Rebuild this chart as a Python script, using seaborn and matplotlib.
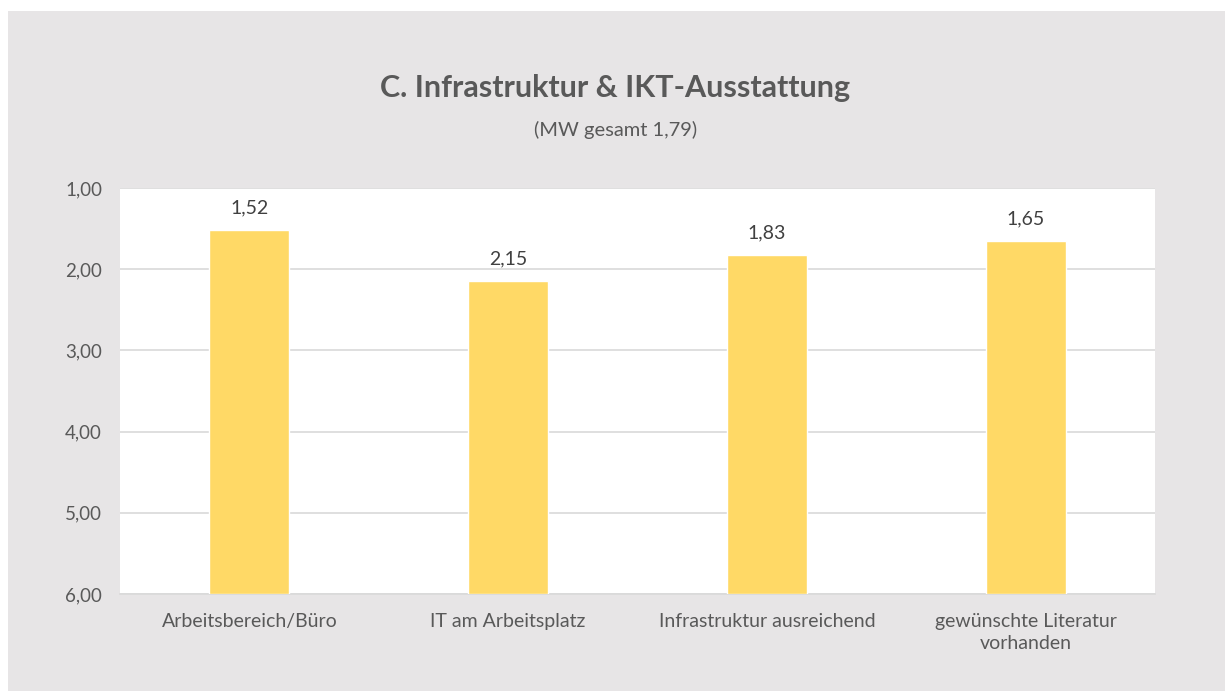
import matplotlib
matplotlib.use("Agg")
import matplotlib.pyplot as plt
from matplotlib.patches import Rectangle
import seaborn as sns

# Chart data
categories = ["Arbeitsbereich/Büro", "IT am Arbeitsplatz",
              "Infrastruktur ausreichend", "gewünschte Literatur\nvorhanden"]
values = [1.52, 2.15, 1.83, 1.65]
y_ticks = [1, 2, 3, 4, 5, 6]
title = "C. Infrastruktur & IKT-Ausstattung"
subtitle = "(MW gesamt 1,79)"

base = 6  # bars grow from the bottom of the (inverted) scale
bar_color = "#FFD966"
frame_color = "#E7E5E6"
text_color = "#595959"

sns.set_theme(style="white")
plt.rcParams["font.family"] = ["Lato", "DejaVu Sans"]

fig = plt.figure(figsize=(12.31, 6.91), dpi=100, facecolor="white")
# grey chart frame with a thin white margin (drawn behind the axes)
fig.patches.append(Rectangle((8 / 1231, 0), 1217 / 1231, 680 / 691,
                             transform=fig.transFigure, facecolor=frame_color,
                             edgecolor="none", zorder=-10))

ax = fig.add_axes([120 / 1231, 1 - 594 / 691, 1035 / 1231, 406 / 691])
ax.set_facecolor("white")

sns.barplot(x=categories, y=[v - base for v in values], bottom=base,
            color=bar_color, width=0.31, saturation=1, errorbar=None, ax=ax,
            zorder=3)

ax.set_ylim(base, 1)
ax.set_xlim(-0.5, len(categories) - 0.5)
ax.set_yticks(y_ticks)
ax.set_yticklabels([f"{t:.2f}".replace(".", ",") for t in y_ticks])
ax.yaxis.grid(True, color="#D9D9D9", linewidth=1.2, zorder=0)
ax.set_axisbelow(True)
for side in ["top", "right", "left"]:
    ax.spines[side].set_visible(False)
ax.spines["bottom"].set_color("#D9D9D9")
ax.spines["bottom"].set_linewidth(1.2)
ax.tick_params(axis="y", length=0, pad=13, labelsize=13.5, labelcolor=text_color)
ax.tick_params(axis="x", length=0, pad=14, labelsize=14, labelcolor=text_color)
for lbl in ax.get_xticklabels():
    lbl.set_linespacing(1.3)
ax.set_xlabel("")
ax.set_ylabel("")

# value labels above each bar
for i, v in enumerate(values):
    ax.annotate(f"{v:.2f}".replace(".", ","), (i, v), xytext=(0, 10),
                textcoords="offset points", ha="center", va="bottom",
                fontsize=14, color="#404040")

fig.text(0.5, 1 - 88 / 691, title, ha="center", va="center",
         fontsize=22, fontweight="bold", color=text_color)
fig.text(0.5, 1 - 130 / 691, subtitle, ha="center", va="center",
         fontsize=14.5, color=text_color)

fig.savefig("out.png", dpi=100, facecolor=fig.get_facecolor())
